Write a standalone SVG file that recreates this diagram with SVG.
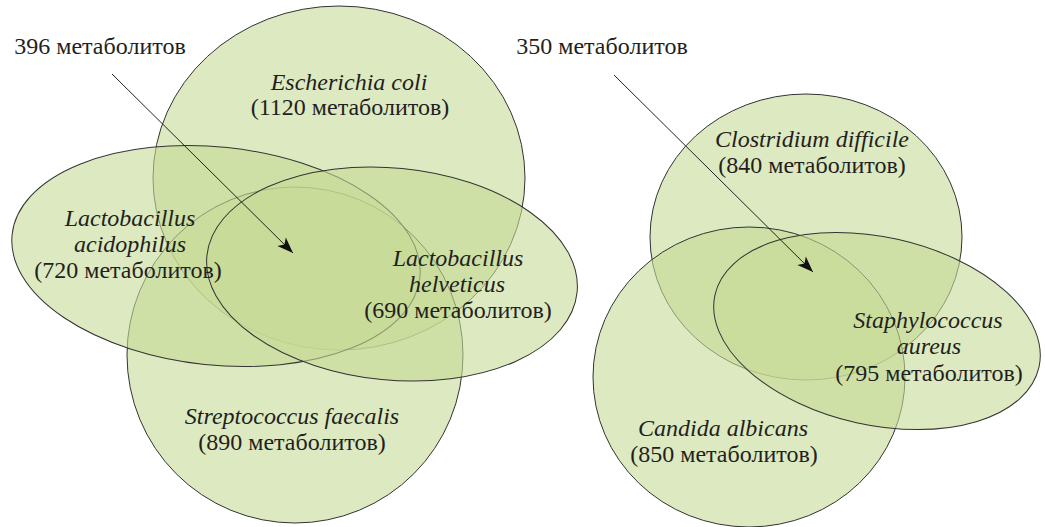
<svg xmlns="http://www.w3.org/2000/svg" width="1045" height="527" viewBox="0 0 1045 527">
<defs>
<style>
.set{fill:rgb(198,218,150);fill-opacity:0.6;stroke:#333;stroke-width:1}
.t{font-family:'Liberation Serif','Times New Roman',serif;font-size:24px;fill:#231f20;text-anchor:middle}
.i{font-style:italic}
.lead{stroke:#222;stroke-width:1;fill:none;marker-end:url(#ah)}
</style>
<marker id="ah" markerUnits="userSpaceOnUse" markerWidth="20" markerHeight="16" viewBox="-17 -8 18 16" refX="0" refY="0" orient="auto">
<path d="M0,0 L-16,-6 L-12,0 L-16,6 Z" fill="#111"/>
</marker>
</defs>
<rect width="1045" height="527" fill="#ffffff"/>
<g id="ecoli"><ellipse class="set" cx="339" cy="178" rx="186" ry="172"/></g>
<g id="sfaecalis"><circle class="set" cx="295" cy="355" r="168"/></g>
<g id="lacidophilus"><ellipse class="set" cx="216" cy="256" rx="205" ry="109" transform="rotate(6 216 256)"/></g>
<g id="lhelveticus"><ellipse class="set" cx="392" cy="274" rx="186" ry="106" transform="rotate(5.6 392 274)"/></g>
<g id="cdifficile"><ellipse class="set" cx="806" cy="237" rx="156" ry="143"/></g>
<g id="calbicans"><ellipse class="set" cx="749" cy="377" rx="156" ry="150"/></g>
<g id="saureus"><ellipse class="set" cx="877" cy="331" rx="166" ry="94" transform="rotate(12.6 877 331)"/></g>
<g id="connectors">
<line class="lead" x1="112" y1="74" x2="293" y2="253"/>
<line class="lead" x1="614" y1="75" x2="813" y2="272"/>
</g>
<g id="labels">
<text class="t" x="100" y="54">396 метаболитов</text>
<text class="t" x="602" y="54">350 метаболитов</text>
<text class="t i" x="349" y="90">Escherichia coli</text>
<text class="t" x="350" y="115" font-size="25">(1120 метаболитов)</text>
<text class="t i" x="130" y="226">Lactobacillus</text>
<text class="t i" x="130" y="252">acidophilus</text>
<text class="t" x="128" y="278">(720 метаболитов)</text>
<text class="t i" x="458" y="266">Lactobacillus</text>
<text class="t i" x="457" y="292">helveticus</text>
<text class="t" x="458" y="318">(690 метаболитов)</text>
<text class="t i" x="292" y="424">Streptococcus faecalis</text>
<text class="t" x="292" y="450">(890 метаболитов)</text>
<text class="t i" x="812" y="147">Clostridium difficile</text>
<text class="t" x="812" y="173">(840 метаболитов)</text>
<text class="t i" x="928" y="328">Staphylococcus</text>
<text class="t i" x="929" y="354">aureus</text>
<text class="t" x="929" y="381">(795 метаболитов)</text>
<text class="t i" x="723" y="436">Candida albicans</text>
<text class="t" x="724" y="462">(850 метаболитов)</text>
</g>
</svg>
